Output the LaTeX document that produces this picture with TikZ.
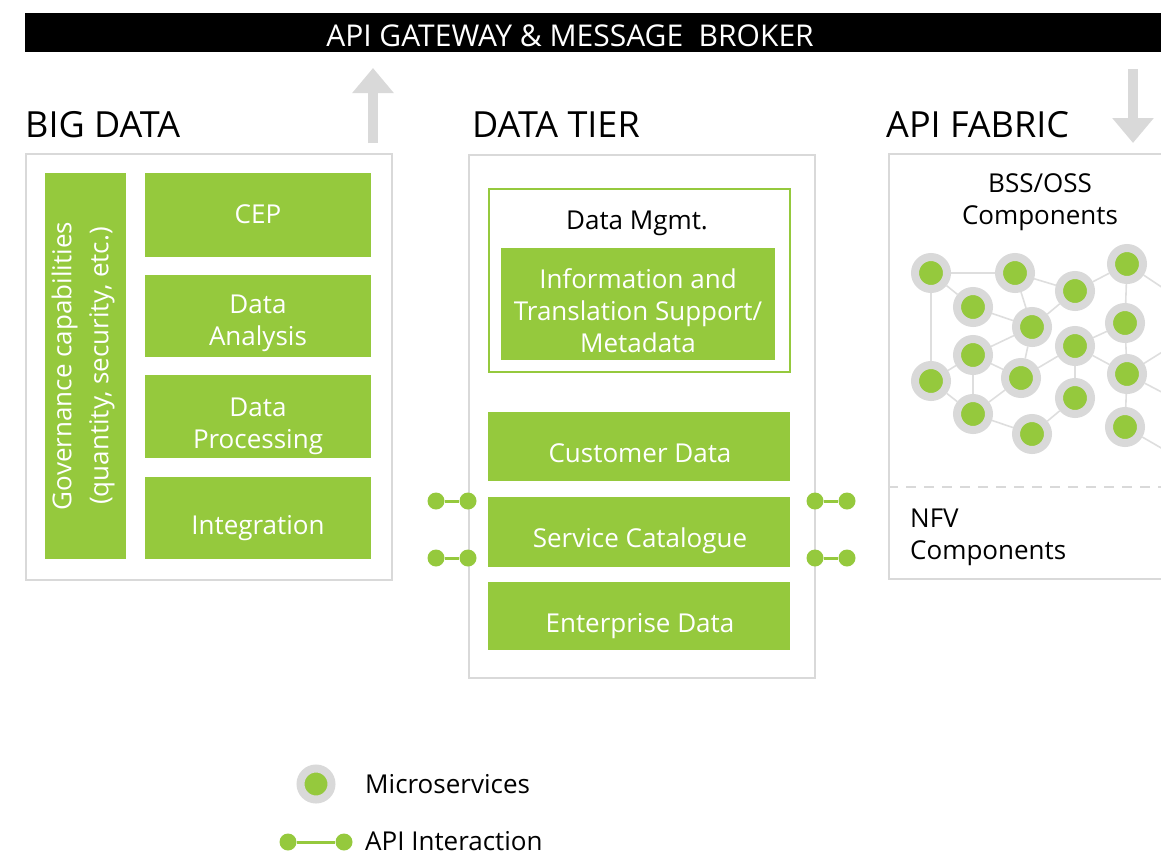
\documentclass[tikz,border=0pt]{standalone}
\usepackage{fontspec}
\setmainfont{Open Sans}
\usetikzlibrary{arrows.meta,backgrounds}
\definecolor{leaf}{HTML}{95C93D}
\definecolor{mist}{HTML}{D9D9D9}
\definecolor{wire}{HTML}{DEDEDE}

\begin{document}
\begin{tikzpicture}[x=1pt,y=-1pt,
  panel/.style={draw=mist, line width=2pt, inner sep=0pt, anchor=north west},
  gbox/.style={fill=leaf, inner sep=0pt, anchor=north west},
  heading/.style={anchor=base west, inner sep=0pt, font=\fontsize{36}{40}\selectfont},
  label/.style={inner sep=0pt, anchor=base, align=center, font=\fontsize{26}{32}\selectfont},
  boxtext/.style={label, text=white},
  svc/.style={circle, fill=leaf, draw=mist, line width=8pt, minimum size=32pt, inner sep=0pt},
  apidot/.style={circle, fill=leaf, minimum size=17pt, inner sep=0pt},
  apilink/.style={draw=leaf, line width=3pt},
  link/.style={draw=wire, line width=1.6pt},
  flow/.style={draw=mist, line width=10pt, -{Triangle[width=40pt,length=25pt]}}
]
\useasboundingbox (0,0) rectangle (1161,854);

% gateway bar
\fill[black] (25,13) rectangle (1170,52);
\node[inner sep=0pt, anchor=base, text=white, font=\fontsize{30}{32}\selectfont] (gateway) at (570,46)
  {API GATEWAY \& MESSAGE\ \ BROKER};

% section headings
\node[heading] (hbig) at (25,137) {BIG DATA};
\node[heading] (htier) at (472,137) {DATA TIER};
\node[heading] (hfab) at (886,137) {API FABRIC};

% flows to and from the gateway
\coordinate (upfoot) at (373,143);
\coordinate (uptip) at (373,68);
\coordinate (downtop) at (1133,69);
\coordinate (downtip) at (1133,143);
\draw[flow] (upfoot) -- (uptip);
\draw[flow] (downtop) -- (downtip);

% ---------- Big data ----------
% (multi-line labels are anchored on the baseline of their last line)
\node[panel, minimum width=366pt, minimum height=426pt] (bigdata) at (25,153) {};
\node[gbox, minimum width=81pt, minimum height=386pt] (gov) at (45,173) {};
\node[inner sep=0pt, align=center, text=white, rotate=90, font=\fontsize{26}{37}\selectfont]
  (govtext) at (83,366) {Governance capabilities\\(quantity, security, etc.)};
\node[gbox, minimum width=226pt, minimum height=84pt] (cep) at (145,173) {};
\node[gbox, minimum width=226pt, minimum height=82pt] (analysis) at (145,275) {};
\node[gbox, minimum width=226pt, minimum height=83pt] (processing) at (145,375) {};
\node[gbox, minimum width=226pt, minimum height=82pt] (integration) at (145,477) {};
\node[boxtext] (ceptext) at (258,223) {CEP};
\node[boxtext] (analysistext) at (258,345) {Data\\Analysis};
\node[boxtext] (processingtext) at (258,448) {Data\\Processing};
\node[boxtext] (integrationtext) at (258,534) {Integration};

% ---------- Data tier ----------
\node[panel, minimum width=346pt, minimum height=523pt] (tier) at (468,154) {};
\node[draw=leaf, line width=2pt, inner sep=0pt, anchor=north west,
  minimum width=301pt, minimum height=183pt] (mgmt) at (488,188) {};
\node[label] (mgmttext) at (637,229) {Data Mgmt.};
\node[gbox, minimum width=274pt, minimum height=112pt] (meta) at (501,248) {};
\node[boxtext] (metatext) at (638,352) {Information and\\Translation Support/\\Metadata};
\node[gbox, minimum width=302pt, minimum height=69pt] (customer) at (488,412) {};
\node[gbox, minimum width=302pt, minimum height=70pt] (catalogue) at (488,497) {};
\node[gbox, minimum width=302pt, minimum height=68pt] (enterprise) at (488,582) {};
\node[boxtext] (customertext) at (640,462) {Customer Data};
\node[boxtext] (cataloguetext) at (640,547) {Service Catalogue};
\node[boxtext] (enterprisetext) at (640,632) {Enterprise Data};

% API interactions on the data tier
\node[apidot] (la1) at (436,501) {};
\node[apidot] (lb1) at (468,501) {};
\node[apidot] (la2) at (436,558) {};
\node[apidot] (lb2) at (468,558) {};
\node[apidot] (ra1) at (815,501) {};
\node[apidot] (rb1) at (847,501) {};
\node[apidot] (ra2) at (815,558) {};
\node[apidot] (rb2) at (847,558) {};
\draw[apilink] (la1) -- (lb1);
\draw[apilink] (la2) -- (lb2);
\draw[apilink] (ra1) -- (rb1);
\draw[apilink] (ra2) -- (rb2);

% ---------- API fabric ----------
\node[panel, minimum width=290pt, minimum height=425pt] (fabric) at (888,153) {};
\coordinate (cutL) at (888,487);
\coordinate (cutR) at (1175,487);
\draw[draw=mist, line width=2pt, dash pattern=on 10pt off 8pt] (cutL) -- (cutR);
\node[label] (bss) at (1040,224) {BSS/OSS\\Components};
\node[label, align=left, anchor=base west] (nfv) at (910,559) {NFV\\Components};

% microservice mesh
\node[svc] (m1) at (931,273) {};
\node[svc] (m2) at (1015,273) {};
\node[svc] (m3) at (1075,291) {};
\node[svc] (m4) at (1127,264) {};
\node[svc] (m5) at (973,307) {};
\node[svc] (m6) at (1032,327) {};
\node[svc] (m7) at (1125,323) {};
\node[svc] (m8) at (973,355) {};
\node[svc] (m9) at (1075,346) {};
\node[svc] (m10) at (931,381) {};
\node[svc] (m11) at (1021,378) {};
\node[svc] (m12) at (1127,374) {};
\node[svc] (m13) at (1075,398) {};
\node[svc] (m14) at (973,414) {};
\node[svc] (m15) at (1032,434) {};
\node[svc] (m16) at (1125,427) {};
\coordinate (x4) at (1175,296);
\coordinate (x12a) at (1175,344);
\coordinate (x12b) at (1175,399);
\coordinate (x16) at (1175,456);
\begin{scope}[on background layer]
  \foreach \a/\b in {m1/m2, m1/m5, m1/m10, m2/m3, m2/m6, m3/m4, m3/m6, m4/m7,
                     m5/m6, m6/m8, m6/m11, m7/m9, m7/m12, m8/m10, m8/m11, m8/m14,
                     m9/m11, m9/m12, m9/m13, m10/m14, m11/m14, m12/m16, m13/m15,
                     m14/m15, m4/x4, m12/x12a, m12/x12b, m16/x16}
    \draw[link] (\a) -- (\b);
\end{scope}

% ---------- legend ----------
\node[svc, minimum size=31pt] (keysvc) at (316,784) {};
\node[label, anchor=base west] (keysvctext) at (365,793) {Microservices};
\node[apidot] (keya) at (288,842) {};
\node[apidot] (keyb) at (344,842) {};
\draw[apilink] (keya) -- (keyb);
\node[label, anchor=base west] (keyapitext) at (365,850) {API Interaction};
\end{tikzpicture}
\end{document}
